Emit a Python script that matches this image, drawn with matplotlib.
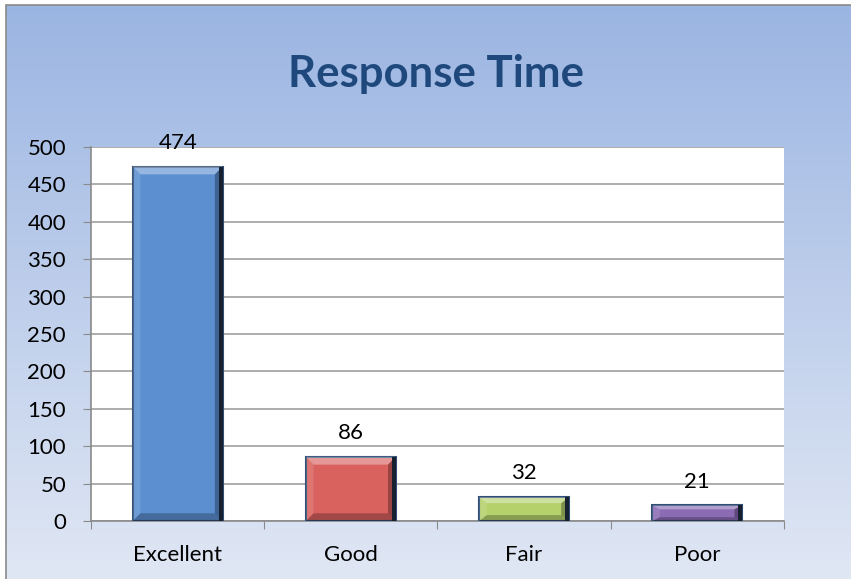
import matplotlib.pyplot as plt
import numpy as np
from matplotlib.patches import Polygon, Rectangle

# chart data
categories = ['Excellent', 'Good', 'Fair', 'Poor']
responses = [474, 86, 32, 21]
bar_colors = ['#5b8fd0', '#d9625f', '#b5d16c', '#8a6bb4']

plt.rcParams['font.family'] = ['Lato', 'DejaVu Sans']

fig = plt.figure(figsize=(8.51, 5.79), dpi=100, facecolor='white')

# gradient background inside the chart border
bg = fig.add_axes([0, 0, 1, 1], zorder=-10)
top = np.array([0x9b, 0xb5, 0xe2]) / 255
bottom = np.array([0xe0, 0xe7, 0xf4]) / 255
t = np.linspace(0, 1, 256)[:, None]
grad = top * (1 - t) + bottom * t
border_x, border_top = 0.007, 0.991
bg.imshow(grad[:, None, :], aspect='auto', extent=[border_x, 1, 0, border_top])
bg.add_patch(Rectangle((border_x, -0.01), 1.1, border_top + 0.01, fill=False,
                       edgecolor='#8a8a8a', linewidth=1.2))
bg.set_xlim(0, 1)
bg.set_ylim(0, 1)
bg.axis('off')

ax = fig.add_axes([0.107, 0.1, 0.814, 0.646])
ax.set_facecolor('white')

x = np.arange(len(categories))
bars = ax.bar(x, responses, width=0.52, color=bar_colors,
              edgecolor='#2f4d75', linewidth=1.5, zorder=3)

# bevel effect derived from each bar's own geometry
for b in bars:
    bx, by, bw, bh = b.get_x(), b.get_y(), b.get_width(), b.get_height()
    dx = 0.045
    dy = min(10.5, bh / 4)
    x0, x1, y0, y1 = bx, bx + bw, by, by + bh
    faces = [
        ([(x0, y1), (x1, y1), (x1 - dx, y1 - dy), (x0 + dx, y1 - dy)], 'white', 0.35),
        ([(x0, y0), (x1, y0), (x1 - dx, y0 + dy), (x0 + dx, y0 + dy)], 'black', 0.25),
        ([(x0, y0), (x0, y1), (x0 + dx, y1 - dy), (x0 + dx, y0 + dy)], 'white', 0.12),
        ([(x1, y0), (x1, y1), (x1 - dx, y1 - dy), (x1 - dx, y0 + dy)], 'black', 0.3),
    ]
    for pts, c, a in faces:
        ax.add_patch(Polygon(pts, closed=True, facecolor=c, alpha=a,
                             edgecolor='none', zorder=4))
    # dark shadow strip along the right side
    ax.add_patch(Rectangle((x1 - 0.022, y0), 0.022, bh, facecolor='#16202e',
                           edgecolor='none', zorder=5))
    ax.annotate(f'{int(bh)}', (bx + bw / 2, y1), xytext=(0, 10),
                textcoords='offset points', ha='center', va='bottom',
                fontsize=16, color='black', clip_on=False)

ax.set_xlim(-0.5, len(categories) - 0.5)
ax.set_ylim(0, 500)
ax.set_yticks(np.arange(0, 501, 50))
ax.grid(axis='y', color='#a0a0a0', linewidth=1.2, zorder=0)
ax.set_axisbelow(True)

ax.set_xticks(np.arange(-0.5, len(categories), 1.0))
ax.set_xticklabels([])
ax.set_xticks(x, minor=True)
ax.set_xticklabels(categories, minor=True)
ax.tick_params(axis='x', which='major', length=6, color='#8a8a8a', direction='out')
ax.tick_params(axis='x', which='minor', length=0, pad=17, labelsize=16)
ax.tick_params(axis='y', length=6, color='#8a8a8a', pad=12, labelsize=16)

for side in ['top', 'right']:
    ax.spines[side].set_visible(False)
ax.spines['left'].set_color('#8a8a8a')
ax.spines['bottom'].set_color('#8a8a8a')
ax.spines['left'].set_linewidth(1.2)
ax.spines['bottom'].set_linewidth(1.2)

fig.text(0.512, 1 - 87 / 579, 'Response Time', ha='center', va='baseline',
         fontsize=31.5, fontweight='bold', color='#1f497d')

fig.savefig('out.png', dpi=100)
